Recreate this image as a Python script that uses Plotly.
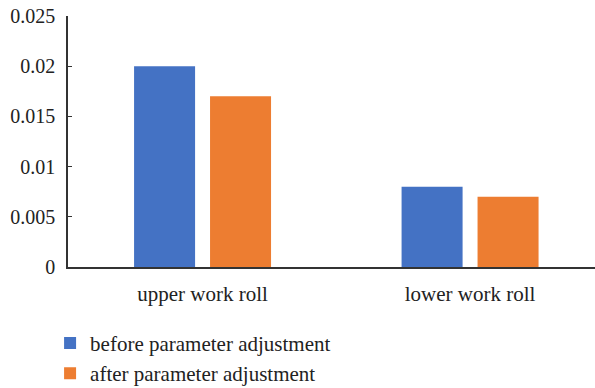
import plotly.graph_objects as go

categories = ["upper work roll", "lower work roll"]
before_vals = [0.02, 0.008]
after_vals = [0.017, 0.007]
series_names = ["before parameter adjustment", "after parameter adjustment"]
tick_vals = [0, 0.005, 0.01, 0.015, 0.02, 0.025]
tick_text = ["0", "0.005", "0.01", "0.015", "0.02", "0.025"]

FONT = "Liberation Serif, Times New Roman, serif"
LABEL = dict(family=FONT, size=21, color="#222222")
TICK = dict(family=FONT, size=20, color="#222222")

fig = go.Figure()
fig.add_trace(go.Bar(x=categories, y=before_vals, name=series_names[0],
                     marker=dict(color="#4472C4", line=dict(width=0))))
fig.add_trace(go.Bar(x=categories, y=after_vals, name=series_names[1],
                     marker=dict(color="#ED7D31", line=dict(width=0))))

fig.update_layout(
    width=595, height=388,
    margin=dict(l=68, r=0, t=16, b=121, autoexpand=False),
    paper_bgcolor="white", plot_bgcolor="white",
    barmode="group", bargap=0.432, bargroupgap=0.197,
    font=LABEL,
    showlegend=True,
    legend=dict(orientation="v", x=-0.034, xanchor="left",
                yref="container", y=0.168, yanchor="top",
                font=LABEL, itemwidth=30, tracegroupgap=0,
                bgcolor="rgba(0,0,0,0)"),
)
fig.update_xaxes(showline=True, linecolor="#333333", linewidth=1.5,
                 ticks="", showgrid=False, tickfont=LABEL,
                 ticklabelstandoff=7,
                 range=[-0.503, 1.467])
fig.update_yaxes(range=[0, 0.025], tickvals=tick_vals, ticktext=tick_text,
                 showline=True, linecolor="#333333", linewidth=1.5,
                 ticks="inside", ticklen=4, tickcolor="#333333",
                 showgrid=False, zeroline=False, tickfont=TICK,
                 ticklabelstandoff=7)

fig.write_html("out.html")
